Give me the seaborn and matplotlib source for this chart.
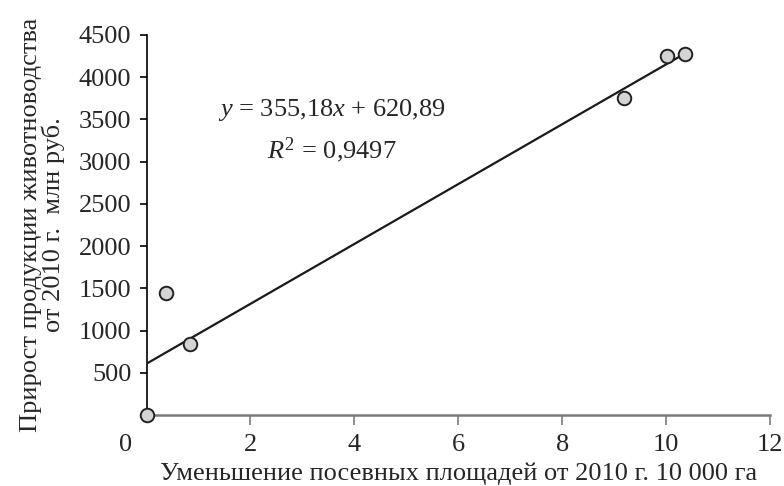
import seaborn as sns
import matplotlib
import matplotlib.pyplot as plt
from matplotlib.transforms import ScaledTranslation

matplotlib.use('agg')

# data
area_drop = [0.0, 0.37, 0.84, 9.2, 10.02, 10.36]
livestock_gain = [0, 1440, 844, 3755, 4249, 4272]
x_ticks = [0, 2, 4, 6, 8, 10, 12]
y_ticks = [500, 1000, 1500, 2000, 2500, 3000, 3500, 4000, 4500]
equation = "$y$ = 355,18$x$ + 620,89"
r2_text = "$R^2$ = 0,9497"

sns.set_style("white")
plt.rcParams['font.family'] = ['Liberation Serif', 'DejaVu Serif']
plt.rcParams['mathtext.fontset'] = 'custom'
plt.rcParams['mathtext.rm'] = 'Liberation Serif'
plt.rcParams['mathtext.it'] = 'Liberation Serif:italic'

fig = plt.figure(figsize=(7.84, 4.86), dpi=100)
ax = fig.add_axes([0.187, 0.146, 0.795, 0.782])

sns.regplot(
    x=area_drop,
    y=livestock_gain,
    ax=ax,
    ci=None,
    truncate=True,
    scatter_kws=dict(s=95, color='#d4d4d4', edgecolors='#222222',
                     linewidths=1.4, zorder=4, clip_on=False, alpha=1),
    line_kws=dict(color='#1a1a1a', lw=1.6, zorder=3),
)

ax.set_xlim(0, 12)
ax.set_ylim(0, 4500)
ax.set_xticks(x_ticks)
ax.set_yticks(y_ticks)
ax.set_xticklabels([str(t) for t in x_ticks])

sns.despine(ax=ax)
ax.spines['left'].set_color('black')
ax.spines['left'].set_linewidth(1.2)
ax.spines['bottom'].set_color('#7a7a7a')
ax.spines['bottom'].set_linewidth(1.8)

ax.tick_params(axis='y', direction='out', length=5, width=1.2, color='black',
               labelsize=19, pad=6, left=True)
ax.tick_params(axis='x', direction='out', length=7, width=1.2, color='#7a7a7a',
               labelsize=19, pad=7, bottom=True)

# the corner "0" sits to the left of the origin
lbl0 = ax.get_xticklabels()[0]
lbl0.set_transform(lbl0.get_transform() + ScaledTranslation(-0.21, 0, fig.dpi_scale_trans))
ax.xaxis.get_major_ticks()[0].tick1line.set_visible(False)

ax.set_xlabel("Уменьшение посевных площадей от 2010 г. 10 000 га", fontsize=19, labelpad=4)
ax.set_ylabel("Прирост продукции животноводства\nот 2010 г.  млн руб.", fontsize=19,
              labelpad=10, linespacing=0.95)

ax.text(3.57, 3610, equation, fontsize=19, ha='center', va='center')
ax.text(3.57, 3140, r2_text, fontsize=19, ha='center', va='center')

fig.savefig('out.png', dpi=100)
